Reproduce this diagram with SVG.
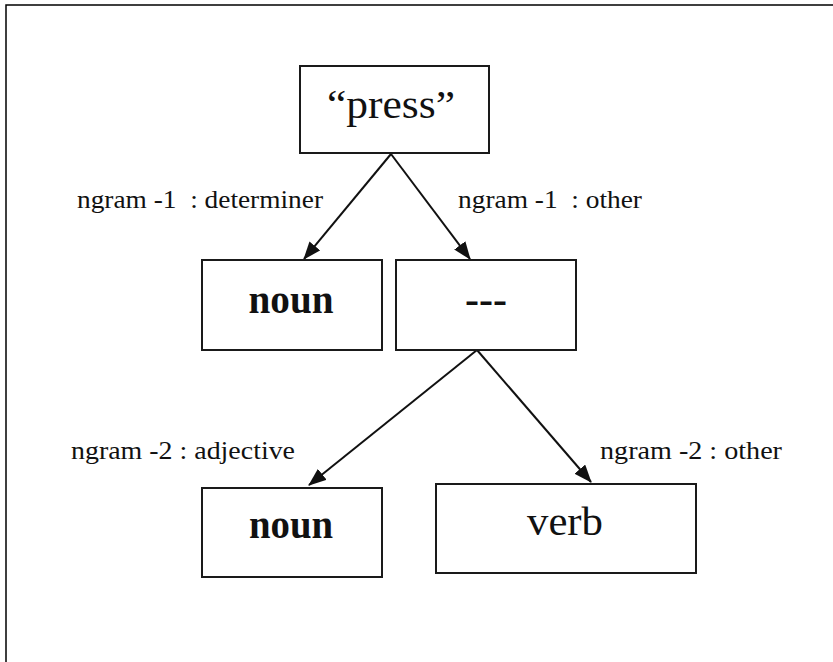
<svg xmlns="http://www.w3.org/2000/svg" width="833" height="662" viewBox="0 0 833 662">
<style>
.frame{fill:none;stroke:#000;stroke-width:1.5}
.box{fill:#fff;stroke:#1a1a1a;stroke-width:2}
.edge{stroke:#111;stroke-width:2;fill:none}
.lbl{font-family:"Liberation Serif","Times New Roman",serif;font-size:25px;fill:#111;white-space:pre}
.node{font-family:"Liberation Serif","Times New Roman",serif;font-size:40px;fill:#111;text-anchor:middle}
.b{font-weight:bold}
</style>
<defs>
<marker id="ah" markerUnits="userSpaceOnUse" markerWidth="18" markerHeight="14" refX="17" refY="7" orient="auto">
<path d="M0,0 L18,7 L0,14 z" fill="#111"/>
</marker>
</defs>
<rect width="833" height="662" fill="#fff"/>
<rect class="frame" x="6" y="5" width="840" height="670"/>
<g id="edges">
<line class="edge" x1="391" y1="154" x2="304" y2="259" marker-end="url(#ah)"/>
<line class="edge" x1="391" y1="154" x2="470" y2="259" marker-end="url(#ah)"/>
<line class="edge" x1="477" y1="350" x2="309" y2="485" marker-end="url(#ah)"/>
<line class="edge" x1="477" y1="350" x2="591" y2="482" marker-end="url(#ah)"/>
<text class="lbl" x="77" y="208" textLength="246" lengthAdjust="spacingAndGlyphs">ngram -1  : determiner</text>
<text class="lbl" x="458" y="208" textLength="184" lengthAdjust="spacingAndGlyphs">ngram -1  : other</text>
<text class="lbl" x="71" y="459" textLength="224" lengthAdjust="spacingAndGlyphs">ngram -2 : adjective</text>
<text class="lbl" x="600" y="459" textLength="182" lengthAdjust="spacingAndGlyphs">ngram -2 : other</text>
</g>
<g id="press">
<rect class="box" x="300" y="66" width="189" height="87"/>
<text class="node" x="391" y="118" textLength="128" lengthAdjust="spacingAndGlyphs">“press”</text>
</g>
<g id="noun1">
<rect class="box" x="202" y="260" width="180" height="90"/>
<text class="node b" x="291" y="313" textLength="85" lengthAdjust="spacingAndGlyphs">noun</text>
</g>
<g id="dash">
<rect class="box" x="396" y="260" width="180" height="90"/>
<text class="node b" x="486" y="313" textLength="42" lengthAdjust="spacingAndGlyphs">---</text>
</g>
<g id="noun2">
<rect class="box" x="202" y="488" width="180" height="89"/>
<text class="node b" x="291" y="538" textLength="84" lengthAdjust="spacingAndGlyphs">noun</text>
</g>
<g id="verb">
<rect class="box" x="436" y="484" width="260" height="89"/>
<text class="node" x="565" y="535" textLength="76" lengthAdjust="spacingAndGlyphs">verb</text>
</g>
</svg>
